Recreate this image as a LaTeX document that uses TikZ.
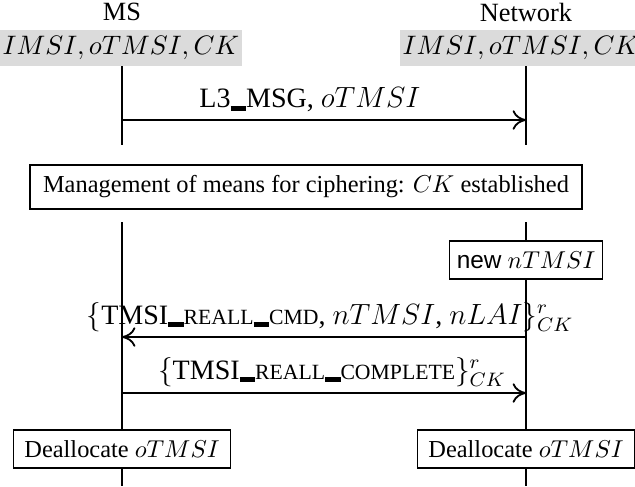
\documentclass[tikz,border=0pt]{standalone}
\usepackage{fontspec}
\setmainfont{Liberation Serif}
\setsansfont{Liberation Sans}
\usetikzlibrary{arrows.meta}
% one drawing unit
\def\pxu{0.41pt}
% small capitals and a heavy underscore for message names
\newcommand\scsc[1]{{\fontsize{8.9}{10}\selectfont #1}}
\newcommand\usc{\rule[-0.1em]{0.55em}{0.17em}}
\begin{document}
\begin{tikzpicture}[x=\pxu, y=-\pxu,
  life/.style={line width=0.55pt},
  msg/.style={line width=0.55pt,
    -{Computer Modern Rightarrow[length=5.5pt,width=8pt,line width=0.75pt]}},
  head/.style={font=\fontsize{10.8}{13}\selectfont},
  label/.style={font=\fontsize{11.5}{14}\selectfont},
  statebox/.style={fill=black!14, inner xsep=1pt, inner ysep=0pt,
    minimum height=36*\pxu, font=\fontsize{10.8}{13}\selectfont},
  actbox/.style={draw, fill=white, line width=0.55pt, inner xsep=4.5pt,
    minimum height=38*\pxu}]
\useasboundingbox (0,0) rectangle (635,486);

% entities
\node[head] (msh) at (122,12) {MS};
\node[head] (neth) at (526,12) {Network};
\node[statebox] (msv) at (121,48) {$IMSI, oTMSI, CK$};
\node[statebox] (netv) at (521,48) {$IMSI, oTMSI, CK$};

% upper lifelines
\coordinate (msTop) at (122,66);
\coordinate (msMid) at (122,93);
\coordinate (msA) at (122,145);
\coordinate (netTop) at (526,66);
\coordinate (netMid) at (526,93);
\coordinate (netA) at (526,145);
\draw[line width=0.9pt] (msTop) -- (msMid);
\draw[line width=0.9pt] (netTop) -- (netMid);
\draw[life] (msMid) -- (msA);
\draw[life] (netMid) -- (netA);

% first message
\coordinate (l3s) at (122,120);
\coordinate (l3e) at (526,120);
\draw[msg] (l3s) -- (l3e);
\node[label] (l3lab) at (310,100) {L3\usc MSG, $oTMSI$};

% ciphering
\node[actbox, minimum width=552*\pxu, minimum height=44*\pxu] (mgmt) at (306,187)
  {Management of means for ciphering: $CK$ established};

% lower lifelines
\coordinate (msB) at (122,222);
\coordinate (msEnd) at (122,486);
\coordinate (netB) at (526,222);
\coordinate (netEnd) at (526,486);
\draw[life] (msB) -- (msEnd);
\draw[life] (netB) -- (netEnd);

\node[actbox, inner xsep=3pt] (newt) at (526,260) {\textsf{new} $nTMSI$};

% reallocation command
\coordinate (cmdS) at (526,337);
\coordinate (cmdE) at (122,337);
\draw[msg] (cmdS) -- (cmdE);
\node[label] (cmdlab) at (330,317)
  {$\{$TMSI\usc\scsc{REALL}\usc\scsc{CMD}, $nTMSI$,\ $nLAI\}^r_{CK}$};

% reallocation complete
\coordinate (cplS) at (122,393);
\coordinate (cplE) at (526,393);
\draw[msg] (cplS) -- (cplE);
\node[label] (cpllab) at (332,372)
  {$\{$TMSI\usc\scsc{REALL}\usc\scsc{COMPLETE}$\}^r_{CK}$};

% deallocation
\node[actbox] (dms) at (122,449) {Deallocate $oTMSI$};
\node[actbox] (dnet) at (526,449) {Deallocate $oTMSI$};
\end{tikzpicture}
\end{document}
